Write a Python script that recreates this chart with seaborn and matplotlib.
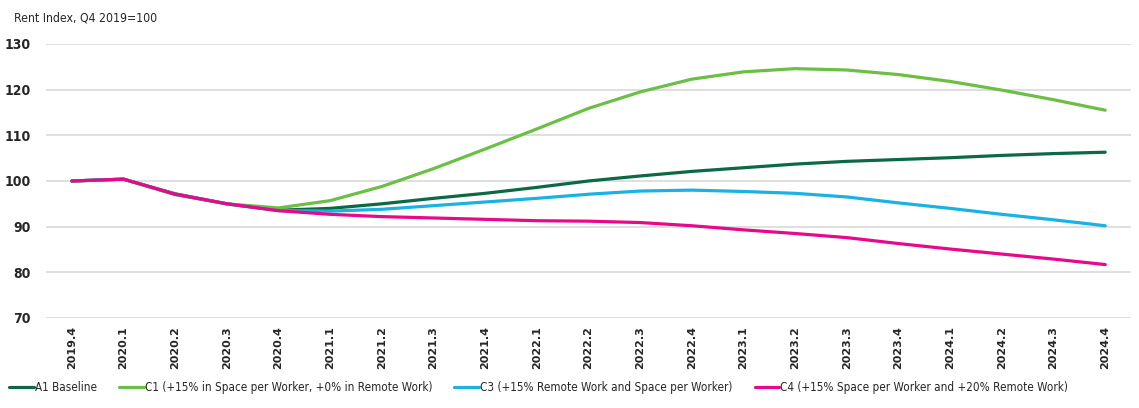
import pandas as pd
import matplotlib.pyplot as plt
import seaborn as sns
from matplotlib.font_manager import FontProperties

# Quarters and rent index values (Q4 2019 = 100)
quarters = ['2019.4', '2020.1', '2020.2', '2020.3', '2020.4',
            '2021.1', '2021.2', '2021.3', '2021.4',
            '2022.1', '2022.2', '2022.3', '2022.4',
            '2023.1', '2023.2', '2023.3', '2023.4',
            '2024.1', '2024.2', '2024.3', '2024.4']

a1_baseline = [100, 100.4, 97.2, 95.0, 93.6, 94.0, 95.0, 96.2, 97.3, 98.6, 100.0,
               101.1, 102.1, 102.9, 103.7, 104.3, 104.7, 105.1, 105.6, 106.0, 106.3]
c1_space = [100, 100.4, 97.0, 95.0, 94.1, 95.7, 98.8, 102.7, 107.0, 111.4, 115.9,
            119.5, 122.3, 123.9, 124.6, 124.3, 123.3, 121.8, 119.9, 117.8, 115.5]
c3_remote_space = [100, 100.4, 97.1, 95.0, 93.5, 93.4, 93.8, 94.6, 95.4, 96.2, 97.1,
                   97.8, 98.0, 97.7, 97.3, 96.5, 95.2, 94.0, 92.7, 91.5, 90.2]
c4_space_remote = [100, 100.4, 97.1, 95.0, 93.5, 92.7, 92.2, 91.9, 91.6, 91.3, 91.2,
                   90.9, 90.2, 89.3, 88.5, 87.6, 86.3, 85.1, 84.0, 82.9, 81.7]

series_names = ['A1 Baseline',
                'C1 (+15% in Space per Worker, +0% in Remote Work)',
                'C3 (+15% Remote Work and Space per Worker)',
                'C4 (+15% Space per Worker and +20% Remote Work)']
colors = ['#0b6a45', '#6cbf45', '#19b2e3', '#e8088a']

df = pd.DataFrame({'quarter': quarters * 4,
                   'value': a1_baseline + c1_space + c3_remote_space + c4_space_remote,
                   'scenario': [n for n in series_names for _ in quarters]})

sns.set_style('white')
plt.rcParams['font.family'] = ['DejaVu Sans']

narrow = FontProperties(family='DejaVu Sans', stretch='condensed', size=8.4)
narrow_title = FontProperties(family='DejaVu Sans', stretch='condensed', size=8.8)
narrow_bold = FontProperties(family='DejaVu Sans', stretch='condensed', weight='bold', size=10)

fig = plt.figure(figsize=(11.39, 4.08), dpi=100)
ax = fig.add_axes([0.0404, 0.2206, 0.9526, 0.6716])

sns.lineplot(data=df, x='quarter', y='value', hue='scenario', hue_order=series_names,
             palette=colors, linewidth=2.3, sort=False, ax=ax)

ax.set_xlim(-0.5, len(quarters) - 0.5)
ax.set_ylim(70, 130)
ax.set_yticks(range(70, 131, 10))
ax.grid(axis='y', color='#d9d9d9', linewidth=1.2)
ax.set_axisbelow(True)
for s in ax.spines.values():
    s.set_visible(False)
ax.set_xlabel('')
ax.set_ylabel('')
ax.tick_params(axis='both', length=0)
ax.tick_params(axis='y', pad=11)
for lab in ax.get_yticklabels():
    lab.set_fontproperties(narrow_bold)
ax.set_xticks(range(len(quarters)))
ax.set_xticklabels(quarters, rotation=90, fontsize=8, fontweight='bold')
ax.tick_params(axis='x', pad=6)

fig.text(0.012, 0.955, 'Rent Index, Q4 2019=100', fontproperties=narrow_title,
         va='center', ha='left')

ax.legend(loc='center left', bbox_to_anchor=(0.004, 0.05), bbox_transform=fig.transFigure,
          ncol=4, frameon=False, prop=narrow, handlelength=2.1, handletextpad=0.1,
          columnspacing=1.9, borderaxespad=0)

fig.savefig('out.png', dpi=100)
